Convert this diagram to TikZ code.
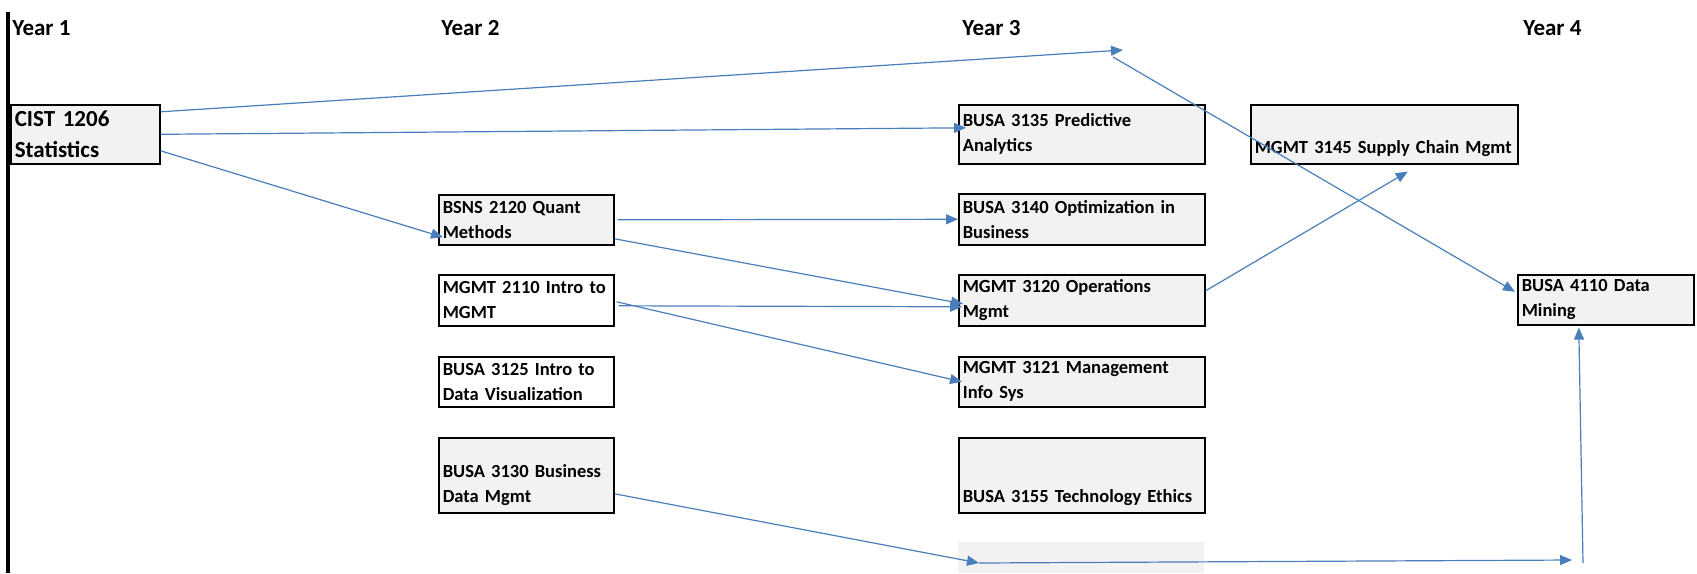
\documentclass[tikz,border=0pt]{standalone}
\usepackage{fontspec}
\setmainfont{Carlito}
\usetikzlibrary{arrows.meta}
\definecolor{cellgray}{HTML}{F2F2F2}
\definecolor{linkblue}{HTML}{4A7EBB}
\newcommand{\smallfnt}{\fontsize{9.25}{12.5}\selectfont\bfseries}
\newcommand{\bigfnt}{\fontsize{11.5}{15.5}\selectfont\bfseries}
\newcommand{\lowtext}[3]{\parbox[c][#1][b]{#2}{\raggedright #3\strut}}
\tikzset{
  yearlbl/.style={font=\bigfnt, anchor=base west, inner sep=0pt},
  course/.style={draw=black, line width=0.8pt, fill=cellgray, anchor=north west,
    inner xsep=2pt, inner ysep=0pt, align=left, font=\smallfnt},
  plaincourse/.style={course, fill=white},
  prereq/.style={draw=linkblue, line width=0.6pt, -{Triangle[length=6pt,width=5pt]}}
}
\begin{document}
\begin{tikzpicture}[x=0.5pt,y=-0.5pt]
  \useasboundingbox (0,0) rectangle (1697,573);
  % time line on the left
  \draw[line width=2pt] (8,12) -- (8,573);
  % year headings
  \node[yearlbl] (y1) at (12,35) {Year 1};
  \node[yearlbl] (y2) at (441,35) {Year 2};
  \node[yearlbl] (y3) at (962,35) {Year 3};
  \node[yearlbl] (y4) at (1523,35) {Year 4};
  % year 1
  \node[course, font=\bigfnt, text width=70.5pt, minimum height=29.5pt] (cist) at (10,104) {CIST 1206\\Statistics};
  % year 2
  \node[course, text width=83.5pt, minimum height=25pt] (bsns) at (438,194) {BSNS 2120 Quant\\Methods};
  \node[plaincourse, text width=83.5pt, minimum height=25.5pt] (mgmtA) at (438,274) {MGMT 2110 Intro to\\MGMT};
  \node[plaincourse, text width=83.5pt, minimum height=25pt] (busaA) at (438,356) {BUSA 3125 Intro to\\Data Visualization};
  \node[course, text width=83.5pt, minimum height=37.5pt] (busaB) at (438,437) {\lowtext{31pt}{83.5pt}{BUSA 3130 Business\\Data Mgmt}};
  % year 3
  \node[course, text width=119pt, minimum height=29.5pt] (b3135) at (958,104) {BUSA 3135 Predictive\\Analytics};
  \node[course, text width=119pt, minimum height=25.5pt] (b3140) at (958,193) {BUSA 3140 Optimization in\\Business};
  \node[course, text width=119pt, minimum height=25.5pt] (m3120) at (958,274) {MGMT 3120 Operations\\Mgmt};
  \node[course, text width=119pt, minimum height=25pt] (m3121) at (958,356) {MGMT 3121 Management\\Info Sys};
  \node[course, text width=119pt, minimum height=37.5pt] (b3155) at (958,437) {\lowtext{31pt}{119pt}{BUSA 3155 Technology Ethics}};
  \node[fill=cellgray, anchor=north west, inner sep=0pt, minimum width=123pt, minimum height=15.5pt] (spare) at (958,542) {};
  \node[course, text width=129.5pt, minimum height=29.5pt] (m3145) at (1250,104) {\lowtext{23pt}{129.5pt}{\mbox{MGMT 3145 Supply Chain Mgmt}}};
  % year 4
  \node[course, text width=84pt, minimum height=25pt] (b4110) at (1517,274) {BUSA 4110 Data\\Mining};
  % bends
  \coordinate (turnA) at (1123,50);
  \coordinate (turnB) at (1113,57);
  \coordinate (lowA) at (979,563);
  \coordinate (lowB) at (1572,560);
  \coordinate (lowC) at (1583,563);
  % prerequisites
  \draw[prereq] ([yshift=11.25pt]cist.east) -- (turnA);
  \draw[prereq] (turnB) -- ([xshift=-1pt,yshift=4pt]b4110.west);
  \draw[prereq] (cist.east) -- ([xshift=4pt,yshift=3.25pt]b3135.west);
  \draw[prereq] ([yshift=-8.25pt]cist.east) -- ([xshift=2.5pt,yshift=-8.7pt]bsns.west);
  \draw[prereq] ([xshift=1.5pt]bsns.east) -- (b3140.west);
  \draw[prereq] ([yshift=-9.5pt]bsns.east) -- ([xshift=2.5pt,yshift=-1.75pt]m3120.west);
  \draw[prereq] ([xshift=2pt,yshift=-2.75pt]mgmtA.east) -- ([xshift=2pt,yshift=-3.25pt]m3120.west);
  \draw[prereq] ([xshift=1pt,yshift=-0.75pt]mgmtA.east) -- ([xshift=2pt]m3121.west);
  \draw[prereq] ([yshift=-9.25pt]busaB.east) -- (lowA);
  \draw[prereq] (lowA) -- (lowB);
  \draw[prereq] (lowC) -- ([xshift=-13.5pt,yshift=-1pt]b4110.south);
  \draw[prereq] ([yshift=4.75pt]m3120.east) -- ([xshift=11.75pt,yshift=-3.5pt]m3145.south);
\end{tikzpicture}
\end{document}
